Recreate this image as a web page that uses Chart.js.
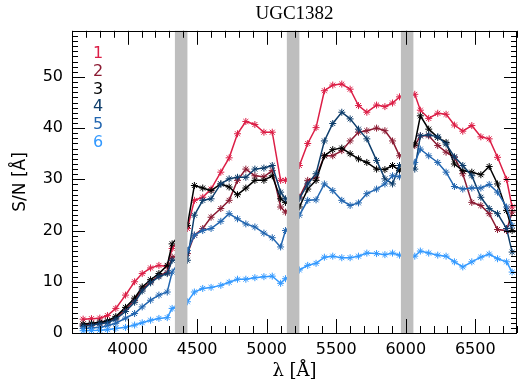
<!DOCTYPE html>
<html>
<head>
<meta charset="utf-8">
<title>UGC1382</title>
<script src="https://cdn.jsdelivr.net/npm/chart.js@4"></script>
<style>
    html, body { margin: 0; padding: 0; background: #fff; }
    canvas { display: block; }
</style>
</head>
<body>
<canvas id="snChart" width="522" height="384"></canvas>
<script>
// wavelength of each bin (Angstrom)
const lambda = [
    3680, 3740, 3800, 3855, 3915, 3985, 4050, 4105, 4165, 4225, 4285, 4320,
    4430, 4480, 4540, 4600, 4670, 4730, 4790, 4850, 4915, 4980, 5040, 5100, 5135,
    5235, 5295, 5355, 5415, 5475, 5540, 5600, 5660, 5720, 5790, 5850, 5905, 5955,
    6065, 6105, 6165, 6230, 6290, 6350, 6410, 6475, 6540, 6600, 6660, 6725, 6765
];

// S/N per aperture
const sn1 = [
    2.7, 2.8, 2.9, 3.4, 4.8, 7.4, 10.0, 11.6, 12.7, 13.2, 13.0, 16.5,
    20.4, 25.9, 26.5, 28.1, 31.4, 34.2, 38.9, 41.3, 40.7, 39.2, 39.2, 29.8, 29.8,
    32.7, 37.0, 40.1, 47.3, 48.4, 48.6, 47.6, 44.4, 43.1, 44.5, 44.2, 44.9, 46.1,
    46.6, 43.5, 41.9, 42.9, 42.7, 40.6, 39.4, 40.5, 38.3, 37.9, 34.3, 30.0, 24.6
];
const sn2 = [
    1.5, 1.7, 1.9, 2.2, 2.9, 4.6, 6.4, 8.6, 10.0, 11.2, 11.8, 14.8,
    15.5, 19.1, 20.4, 22.6, 24.3, 25.9, 29.8, 32.0, 30.7, 30.5, 31.7, 24.6, 23.6,
    26.5, 29.8, 30.4, 34.6, 34.6, 35.6, 37.5, 39.2, 39.5, 40.0, 39.5, 37.5, 34.6,
    36.6, 38.5, 38.5, 36.6, 35.3, 34.3, 31.1, 25.5, 24.9, 23.3, 20.2, 20.0, 23.6
];
const sn3 = [
    1.75, 1.9, 2.1, 2.4, 3.2, 5.0, 6.8, 9.0, 10.4, 11.6, 13.2, 17.4,
    21.0, 28.8, 28.3, 27.8, 29.1, 28.5, 27.0, 28.3, 29.8, 29.8, 30.7, 26.2, 25.5,
    24.6, 28.1, 29.8, 34.6, 35.8, 36.1, 35.0, 34.0, 33.3, 32.0, 31.9, 32.7, 31.7,
    36.9, 42.4, 39.8, 38.2, 37.2, 33.0, 31.7, 31.4, 30.9, 32.5, 29.1, 23.9, 20.0
];
const sn4 = [
    1.3, 1.5, 1.8, 2.0, 2.7, 4.2, 6.0, 8.2, 9.8, 11.0, 11.6, 14.2,
    14.2, 23.0, 25.9, 26.2, 29.1, 30.1, 30.4, 30.4, 32.0, 32.2, 32.7, 27.5, 26.2,
    26.2, 29.1, 31.1, 37.5, 40.9, 43.1, 41.8, 39.8, 37.9, 33.7, 30.1, 29.1, 32.7,
    32.0, 38.5, 38.7, 38.3, 36.9, 34.4, 32.7, 30.7, 26.5, 24.3, 23.3, 20.4, 15.8
];
const sn5 = [
    0.9, 1.0, 1.1, 1.4, 1.9, 2.9, 3.8, 5.1, 6.4, 7.4, 8.0, 11.9,
    16.1, 19.1, 20.0, 20.4, 21.8, 23.3, 22.3, 21.3, 20.7, 19.5, 18.6, 16.8, 20.0,
    23.0, 25.9, 26.0, 29.1, 27.8, 25.9, 24.9, 25.4, 27.2, 28.1, 29.1, 30.7, 30.5,
    33.3, 35.9, 34.6, 33.3, 31.4, 28.6, 28.1, 28.3, 28.3, 29.0, 27.5, 24.6, 21.0
];
const sn6 = [
    0.45, 0.5, 0.55, 0.65, 0.9, 1.1, 1.55, 2.0, 2.5, 2.85, 3.0, 4.8,
    6.1, 8.0, 8.7, 8.9, 9.3, 9.9, 10.5, 10.5, 10.8, 11.0, 11.1, 9.7, 10.6,
    12.3, 13.2, 13.6, 14.8, 15.0, 14.7, 14.7, 15.0, 15.6, 15.5, 15.3, 15.6, 15.2,
    15.0, 16.0, 15.6, 15.2, 15.0, 13.9, 12.9, 13.9, 14.8, 15.4, 14.5, 13.9, 11.9
];

const seriesNames = ['1', '2', '3', '4', '5', '6'];
const seriesColors = ['#dc1e46', '#8b1a32', '#000000', '#0d3d6b', '#2266b0', '#3399ff'];

// masked wavelength windows
const maskBands = [[4340, 4430], [5145, 5235], [5965, 6055]];

const xTickValues = [4000, 4500, 5000, 5500, 6000, 6500];
const yTickValues = [0, 10, 20, 30, 40, 50];

document.addEventListener('DOMContentLoaded', function() {
    const ctx = document.getElementById('snChart').getContext('2d');

    // grey bands, inward ticks on all four sides, frame and the numbered key
    const framePlugin = {
        id: 'framePlugin',
        afterDatasetsDraw(chart) {
            const c = chart.ctx;
            const a = chart.chartArea;
            const xs = chart.scales.x;
            const ys = chart.scales.y;
            c.save();

            c.fillStyle = '#bebebe';
            maskBands.forEach(function(b) {
                const x0 = xs.getPixelForValue(b[0]);
                const x1 = xs.getPixelForValue(b[1]);
                c.fillRect(x0, a.top, x1 - x0, a.bottom - a.top);
            });

            c.strokeStyle = '#000';
            c.lineWidth = 1;
            c.beginPath();
            for (let v = xs.min; v <= xs.max; v += 100) {
                const px = Math.round(xs.getPixelForValue(v)) + 0.5;
                const len = v % 500 === 0 ? 14 : 7;
                c.moveTo(px, a.bottom); c.lineTo(px, a.bottom - len);
                c.moveTo(px, a.top); c.lineTo(px, a.top + len);
            }
            for (let v = ys.min; v <= ys.max; v += 1) {
                const py = Math.round(ys.getPixelForValue(v)) + 0.5;
                const len = v % 10 === 0 ? 13 : 6;
                c.moveTo(a.left, py); c.lineTo(a.left + len, py);
                c.moveTo(a.right, py); c.lineTo(a.right - len, py);
            }
            c.stroke();
            c.strokeRect(Math.round(a.left) + 0.5, Math.round(a.top) + 0.5,
                Math.round(a.right - a.left) - 1, Math.round(a.bottom - a.top));

            c.font = '16px "DejaVu Sans"';
            c.textAlign = 'center';
            c.textBaseline = 'middle';
            chart.data.datasets.forEach(function(ds, i) {
                c.fillStyle = ds.borderColor;
                c.fillText(ds.label, a.left + 26, a.top + 23 + i * 17.8);
            });
            c.restore();
        }
    };

    const allSeries = [sn1, sn2, sn3, sn4, sn5, sn6];

    new Chart(ctx, {
        type: 'line',
        data: {
            datasets: allSeries.map(function(s, i) {
                return {
                    label: seriesNames[i],
                    data: s.map(function(v, j) { return { x: lambda[j], y: v }; }),
                    borderColor: seriesColors[i],
                    backgroundColor: seriesColors[i],
                    pointBorderColor: seriesColors[i],
                    order: allSeries.length - i
                };
            })
        },
        options: {
            responsive: false,
            animation: false,
            devicePixelRatio: 1,
            layout: { padding: { right: 1 } },
            elements: {
                line: { tension: 0, borderWidth: 1.5, fill: false },
                point: { pointStyle: 'star', radius: 3.5, borderWidth: 1 }
            },
            plugins: {
                legend: { display: false },
                tooltip: { enabled: false },
                title: {
                    display: true,
                    text: 'UGC1382',
                    fullSize: false,
                    color: '#000',
                    font: { family: '"Liberation Serif"', size: 19, weight: 'normal' },
                    padding: { top: 3, bottom: 5 }
                }
            },
            scales: {
                x: {
                    type: 'linear',
                    min: 3600,
                    max: 6800,
                    afterBuildTicks: function(s) { s.ticks = xTickValues.map(function(v) { return { value: v }; }); },
                    afterFit: function(s) { s.height = 51; },
                    grid: { display: false, drawTicks: false },
                    border: { display: false },
                    ticks: {
                        color: '#000',
                        font: { family: '"DejaVu Sans"', size: 16 },
                        padding: 7,
                        maxRotation: 0,
                        autoSkip: false,
                        callback: function(value) { return String(value); }
                    },
                    title: {
                        display: true,
                        text: 'λ [Å]',
                        color: '#000',
                        font: { family: '"DejaVu Serif"', size: 18 },
                        padding: { top: 2, bottom: 2 }
                    }
                },
                y: {
                    min: 0,
                    max: 59,
                    afterBuildTicks: function(s) { s.ticks = yTickValues.map(function(v) { return { value: v }; }); },
                    afterFit: function(s) { s.width = 72; },
                    grid: { display: false, drawTicks: false },
                    border: { display: false },
                    ticks: {
                        color: '#000',
                        font: { family: '"DejaVu Sans"', size: 16 },
                        padding: 9,
                        callback: function(value) { return String(value); }
                    },
                    title: {
                        display: true,
                        text: 'S/N [Å]',
                        color: '#000',
                        font: { family: '"DejaVu Sans"', size: 17 },
                        padding: { top: 10, bottom: 10 }
                    }
                }
            }
        },
        plugins: [framePlugin]
    });
});
</script>
</body>
</html>
